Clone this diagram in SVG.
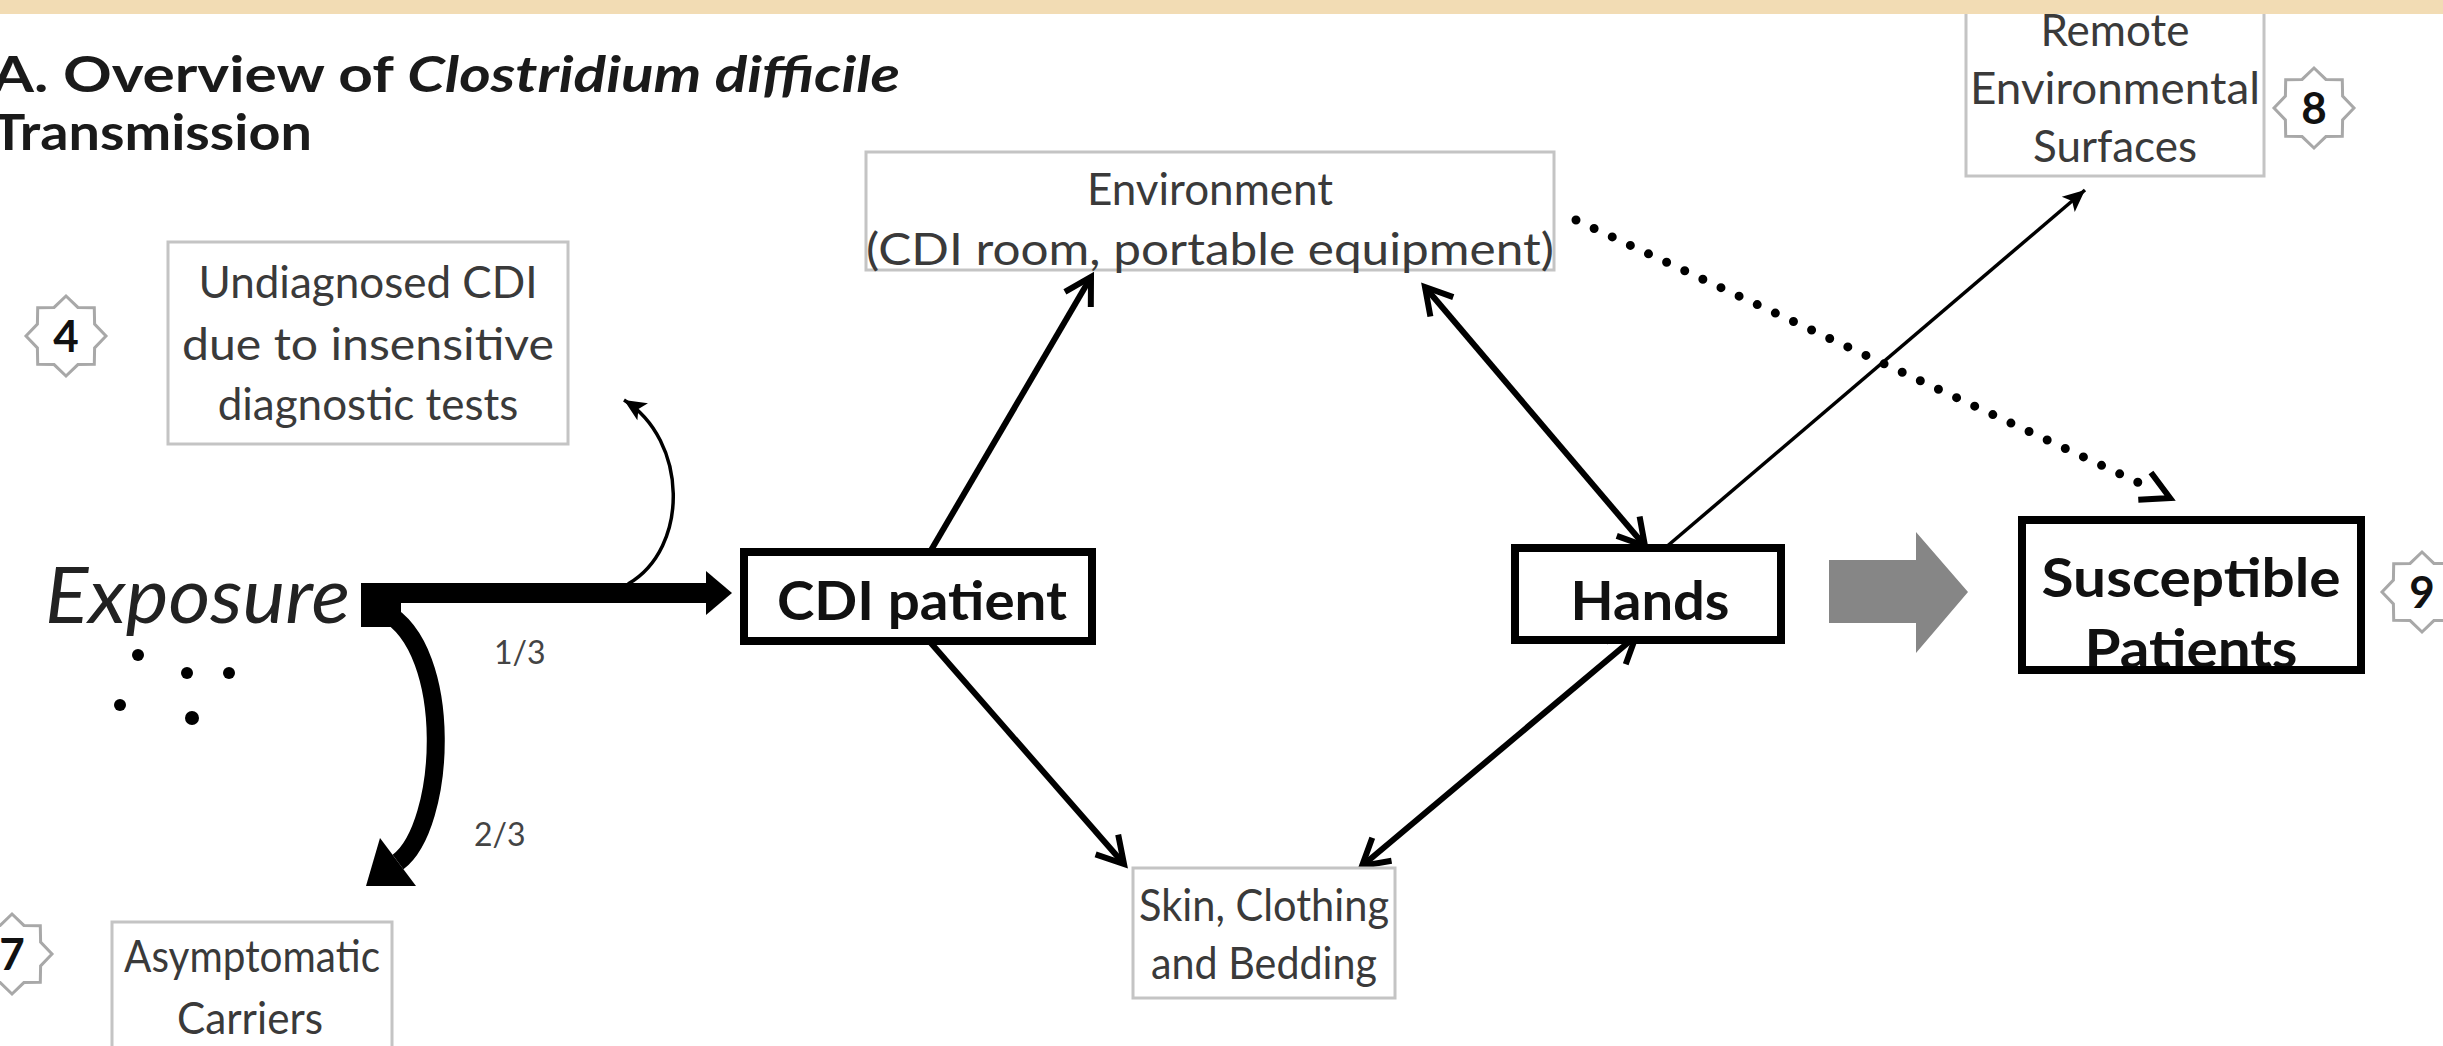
<svg xmlns="http://www.w3.org/2000/svg" width="2443" height="1046" viewBox="0 0 2443 1046">
<style>
.t{font-family:Lato,"Open Sans","Liberation Sans",sans-serif;}
.lbl{font-family:Lato,"Open Sans","Liberation Sans",sans-serif;font-size:44px;fill:#3a3a3a;text-anchor:middle;}
.bold{font-family:Lato,"Open Sans","Liberation Sans",sans-serif;font-size:54px;font-weight:bold;fill:#111;text-anchor:middle;}
.lbox{fill:#fff;stroke:#c4c4c4;stroke-width:3;}
.kbox{fill:#fff;stroke:#000;stroke-width:8;}
.star{fill:#fff;stroke:#a8a8a8;stroke-width:3;}
.num{font-family:Lato,"Open Sans","Liberation Sans",sans-serif;font-size:44px;font-weight:bold;fill:#111;text-anchor:middle;}
.conn{fill:none;stroke:#000;stroke-width:6;}
.frac{font-family:Lato,"Open Sans","Liberation Sans",sans-serif;font-size:32px;fill:#444;}
</style>
<defs>
<marker id="open" markerUnits="userSpaceOnUse" markerWidth="40" markerHeight="40" viewBox="0 0 40 40" refX="34" refY="20" orient="auto-start-reverse">
<path d="M8,5 L34,20 L8,35" fill="none" stroke="#000" stroke-width="6"/>
</marker>
<marker id="dotopen" markerUnits="userSpaceOnUse" markerWidth="44" markerHeight="44" viewBox="0 0 44 44" refX="36" refY="22" orient="auto">
<path d="M8,7 L36,22 L8,37" fill="none" stroke="#000" stroke-width="6"/>
</marker>
<marker id="thin" markerUnits="userSpaceOnUse" markerWidth="26" markerHeight="26" viewBox="0 0 26 26" refX="24" refY="13" orient="auto">
<path d="M2,3 L24,13 L2,23 L7,13 z" fill="#000"/>
</marker>
<path id="star" d="M40,0 L28.6,11.9 L28.3,28.3 L11.9,28.6 L0,40 L-11.9,28.6 L-28.3,28.3 L-28.6,11.9 L-40,0 L-28.6,-11.9 L-28.3,-28.3 L-11.9,-28.6 L0,-40 L11.9,-28.6 L28.3,-28.3 L28.6,-11.9 Z"/>
</defs>
<rect x="0" y="0" width="2443" height="1046" fill="#fff"/>

<g id="title" class="t" fill="#1a1a1a" font-weight="bold" font-size="50">
<text x="-8" y="92" textLength="908" lengthAdjust="spacingAndGlyphs">A. Overview of <tspan font-style="italic">Clostridium difficile</tspan></text>
<text x="-8" y="150" textLength="320" lengthAdjust="spacingAndGlyphs">Transmission</text>
</g>

<g id="connectors">
<path class="conn" d="M930,552 L1091,277" marker-end="url(#open)"/>
<path class="conn" d="M930,642 L1124,864" marker-end="url(#open)"/>
<path class="conn" d="M1425,287 L1645,546" marker-start="url(#open)" marker-end="url(#open)"/>
<path class="conn" d="M1362,866 L1636,636" marker-start="url(#open)" marker-end="url(#open)"/>
<path fill="none" stroke="#000" stroke-width="3.5" d="M1665,548 L2085,190" marker-end="url(#thin)"/>
<path fill="none" stroke="#000" stroke-width="9" stroke-linecap="round" stroke-dasharray="0 20" d="M1576,220 L2150,488"/>
<path fill="none" stroke="none" d="M2140,484 L2170,498" marker-end="url(#dotopen)"/>
<path fill="none" stroke="#000" stroke-width="3.5" d="M628,584 C690,548 688,440 624,400" marker-end="url(#thin)"/>
<rect x="361" y="583" width="350" height="20" fill="#000"/>
<polygon points="706,571 732,593 706,615" fill="#000"/>
<rect x="361" y="583" width="40" height="44" fill="#000"/>
<path d="M385,612 C455,650 446,826 398,862" fill="none" stroke="#000" stroke-width="18"/>
<polygon points="416,886 380,838 366,886" fill="#000"/>
<text class="frac" x="494" y="664">1/3</text>
<text class="frac" x="474" y="846">2/3</text>
</g>

<g id="exposure">
<text class="t" x="45" y="623" font-size="78" font-style="italic" fill="#222" textLength="305" lengthAdjust="spacingAndGlyphs">Exposure</text>
<circle cx="138" cy="655" r="6"/>
<circle cx="187" cy="673" r="6"/>
<circle cx="229" cy="673" r="6"/>
<circle cx="120" cy="705" r="6"/>
<circle cx="192" cy="718" r="7"/>
</g>

<g id="remote">
<rect class="lbox" x="1966" y="4" width="298" height="172"/>
<text class="lbl" x="2115" y="46">Remote</text>
<text class="lbl" x="2115" y="104" textLength="290" lengthAdjust="spacingAndGlyphs">Environmental</text>
<text class="lbl" x="2115" y="162">Surfaces</text>
</g>
<g id="badge8">
<use href="#star" class="star" x="2314" y="108"/>
<text class="num" x="2314" y="124">8</text>
</g>

<rect x="0" y="0" width="2443" height="14" fill="#f2dcb4"/>

<g id="environment">
<rect class="lbox" x="866" y="152" width="688" height="118"/>
<text class="lbl" x="1210" y="205">Environment</text>
<text class="lbl" x="1210" y="265" textLength="688" lengthAdjust="spacingAndGlyphs">(CDI room, portable equipment)</text>
</g>

<g id="undiagnosed">
<rect class="lbox" x="168" y="242" width="400" height="202"/>
<text class="lbl" x="368" y="298">Undiagnosed CDI</text>
<text class="lbl" x="368" y="360" textLength="372" lengthAdjust="spacingAndGlyphs">due to insensitive</text>
<text class="lbl" x="368" y="420">diagnostic tests</text>
</g>
<g id="badge4">
<use href="#star" class="star" x="66" y="336"/>
<text class="num" x="66" y="352">4</text>
</g>

<g id="cdi-patient">
<rect class="kbox" x="744" y="552" width="348" height="89"/>
<text class="bold" x="922" y="620" textLength="290" lengthAdjust="spacingAndGlyphs">CDI patient</text>
</g>

<g id="hands">
<rect class="kbox" x="1515" y="548" width="266" height="92"/>
<text class="bold" x="1650" y="620" textLength="159" lengthAdjust="spacingAndGlyphs">Hands</text>
</g>

<g id="gray-arrow">
<polygon points="1829,560 1916,560 1916,532 1968,592 1916,653 1916,623 1829,623" fill="#868686"/>
</g>

<g id="susceptible">
<text class="bold" x="2191" y="597" textLength="299" lengthAdjust="spacingAndGlyphs">Susceptible</text>
<text class="bold" x="2191" y="668" textLength="213" lengthAdjust="spacingAndGlyphs">Patients</text>
<rect x="2022" y="520" width="339" height="150" fill="none" stroke="#000" stroke-width="8"/>
</g>
<g id="badge9">
<use href="#star" class="star" x="2422" y="592"/>
<text class="num" x="2422" y="608">9</text>
</g>

<g id="skin">
<rect class="lbox" x="1133" y="868" width="262" height="130"/>
<text class="lbl" x="1264" y="921" font-size="42" textLength="250" lengthAdjust="spacingAndGlyphs">Skin, Clothing</text>
<text class="lbl" x="1264" y="979" font-size="42" textLength="226" lengthAdjust="spacingAndGlyphs">and Bedding</text>
</g>

<g id="asymptomatic">
<rect class="lbox" x="112" y="922" width="280" height="140"/>
<text class="lbl" x="252" y="972" font-size="42" textLength="256" lengthAdjust="spacingAndGlyphs">Asymptomatic</text>
<text class="lbl" x="250" y="1034" font-size="42" textLength="146" lengthAdjust="spacingAndGlyphs">Carriers</text>
</g>
<g id="badge7">
<use href="#star" class="star" x="12" y="954"/>
<text class="num" x="12" y="970">7</text>
</g>
</svg>
